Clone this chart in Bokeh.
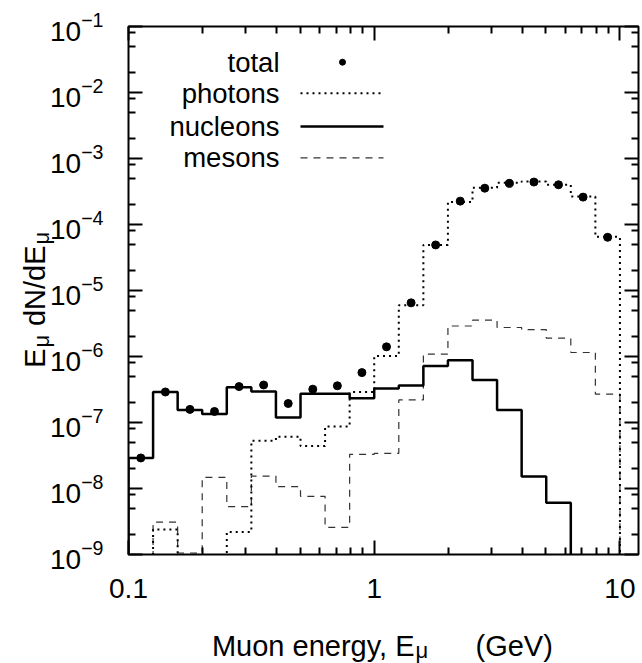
import numpy as np
from bokeh.plotting import figure
from bokeh.models import (LogAxis, FixedTicker, LogTickFormatter, CustomJSTickFormatter, Range1d)
from bokeh.core.properties import value
from bokeh.embed import file_html
from bokeh.resources import INLINE

# ---------------- data ----------------
bin_edges = [0.1, 0.1259, 0.1585, 0.1995, 0.2512, 0.3162, 0.3981, 0.5012, 0.631, 0.7943,
             1.0, 1.259, 1.585, 1.995, 2.512, 3.162, 3.981, 5.012, 6.31, 7.943, 10.0]

total = [2.9e-8, 2.9e-7, 1.58e-7, 1.47e-7, 3.5e-7, 3.7e-7, 1.94e-7, 3.2e-7, 3.6e-7, 5.7e-7,
         1.4e-6, 6.5e-6, 4.9e-5, 2.26e-4, 3.55e-4, 4.2e-4, 4.4e-4, 4.0e-4, 2.6e-4, 6.4e-5]
photons = [0, 2.4e-9, 0, 0, 2.2e-9, 5.3e-8, 6.1e-8, 4.4e-8, 8.7e-8, 2.9e-7,
           1.02e-6, 6.0e-6, 4.9e-5, 2.2e-4, 3.6e-4, 4.3e-4, 4.5e-4, 4.0e-4, 2.65e-4, 6.5e-5]
nucleons = [2.9e-8, 2.9e-7, 1.55e-7, 1.35e-7, 3.43e-7, 2.95e-7, 1.19e-7, 2.72e-7, 2.72e-7, 2.34e-7,
            3.27e-7, 3.63e-7, 7.2e-7, 8.8e-7, 4.4e-7, 1.54e-7, 1.52e-8, 6.1e-9, 0, 0]
mesons = [0, 3.1e-9, 1.05e-9, 1.47e-8, 5.3e-9, 1.54e-8, 1.07e-8, 7.6e-9, 2.57e-9, 3.3e-8,
          3.4e-8, 2.2e-7, 1.09e-6, 2.9e-6, 3.55e-6, 2.75e-6, 2.56e-6, 1.9e-6, 1.15e-6, 2.7e-7]

legend_labels = ["total", "photons", "nucleons", "mesons"]
x_tick_values = [0.1, 1, 10]
y_tick_exponents = list(range(-9, 0))

# ---------------- layout ----------------
W, H = 642, 663
BL, BR, BT, BB = 128, 4, 26, 109
FW, FH = W - BL - BR, H - BT - BB
XL = (0.1, 11.9)
YL = (1e-9, 1e-1)
FLOOR = 1e-14
FONT = "Liberation Sans"
TITLE_SIZE = "29px"
SUB_SIZE = "22px"

p = figure(width=W, height=H, x_axis_type="log", y_axis_type="log",
           x_range=Range1d(*XL), y_range=Range1d(*YL),
           output_backend="svg", toolbar_location=None,
           min_border_left=BL, min_border_right=BR, min_border_top=BT, min_border_bottom=BB)
p.grid.visible = False
p.outline_line_color = "black"
p.outline_line_width = 2
p.background_fill_color = "white"
p.border_fill_color = "white"

x_ticker = FixedTicker(ticks=x_tick_values,
                       minor_ticks=[m * 10.0 ** e for e in (-1, 0) for m in range(2, 10)])
y_ticker = FixedTicker(ticks=[10.0 ** e for e in y_tick_exponents],
                       minor_ticks=[m * 10.0 ** e for e in range(-9, -1) for m in (2, 5, 8)])


def style_axis(ax, labels=True):
    ax.major_tick_in = 14
    ax.major_tick_out = 0
    ax.minor_tick_in = 7
    ax.minor_tick_out = 0
    ax.major_tick_line_width = 2
    ax.minor_tick_line_width = 2
    ax.major_tick_line_color = "black"
    ax.minor_tick_line_color = "black"
    ax.axis_line_color = None
    ax.major_label_text_font = FONT
    ax.major_label_text_color = "black"
    if labels:
        ax.major_label_text_font_size = "28px"
    else:
        ax.major_label_text_font_size = "0px"
        ax.major_label_standoff = 0


xa = p.xaxis[0]
xa.ticker = x_ticker
xa.formatter = CustomJSTickFormatter(code="return tick < 1 ? tick.toFixed(1) : tick.toFixed(0);")
style_axis(xa)
xa.major_label_standoff = 24

ya = p.yaxis[0]
ya.ticker = y_ticker
ya.formatter = LogTickFormatter()
style_axis(ya)
ya.major_label_standoff = 25

blank = CustomJSTickFormatter(code="return '';")
top = LogAxis(ticker=x_ticker, formatter=blank)
style_axis(top, labels=False)
p.add_layout(top, "above")
right = LogAxis(ticker=y_ticker, formatter=blank)
style_axis(right, labels=False)
p.add_layout(right, "right")


def step_path(vals):
    xs, ys = [bin_edges[0]], [FLOOR]
    for i, v in enumerate(vals):
        y = v if v > 0 else FLOOR
        xs += [bin_edges[i], bin_edges[i + 1]]
        ys += [y, y]
    xs.append(bin_edges[-1])
    ys.append(FLOOR)
    return xs, ys


centers = np.sqrt(np.array(bin_edges[:-1]) * np.array(bin_edges[1:]))

mx, my = step_path(mesons)
p.line(mx, my, line_color="#333333", line_width=1.2, line_dash="7 6")
phx, phy = step_path(photons)
p.line(phx, phy, line_color="black", line_width=2, line_dash="2 4")
nx, ny = step_path(nucleons)
p.line(nx, ny, line_color="black", line_width=2.5)
p.scatter(centers, total, size=8, marker="circle", fill_color="black", line_color="black")


# ---------------- helpers: frame pixel -> data ----------------
def to_data(fx, fy):
    lx = np.log10(XL[0]) + fx / FW * (np.log10(XL[1]) - np.log10(XL[0]))
    ly = np.log10(YL[0]) + fy / FH * (np.log10(YL[1]) - np.log10(YL[0]))
    return 10 ** lx, 10 ** ly


def add_text(text, fx, fy, size="28px", align="left", baseline="alphabetic", angle=0.0):
    x, y = to_data(fx, fy)
    p.text(x=[x], y=[y], text=[text], text_font=value(FONT), text_font_size=value(size),
           text_align=align, text_baseline=baseline, angle=angle, text_color="black",
           level="overlay")


# ---------------- legend (label left, sample right) ----------------
leg_rows = [492.3, 461.3, 428.0, 396.7]
for lab, fy in zip(legend_labels, leg_rows):
    add_text(lab, 151, fy, size="27.5px", align="right", baseline="middle")

x0, yy = to_data(172, leg_rows[1])
x1, _ = to_data(255, leg_rows[1])
p.line([x0, x1], [yy, yy], line_color="black", line_width=2, line_dash="2 4")
x0, yy = to_data(172, leg_rows[2])
p.line([x0, x1], [yy, yy], line_color="black", line_width=2.5)
x0, yy = to_data(172, leg_rows[3])
p.line([x0, x1], [yy, yy], line_color="#333333", line_width=1.2, line_dash="7 6")
dx, dy = to_data(214, leg_rows[0])
p.scatter([dx], [dy], size=6, marker="circle", fill_color="black", line_color="black")

# ---------------- axis titles (subscripts chained to anchors) ----------------
add_text("Muon energy, E", 286, -91, size=TITLE_SIZE, align="right")
add_text("\u03bc", 287, -96, size=SUB_SIZE)
add_text("(GeV)", 347, -91, size=TITLE_SIZE)

ang = np.pi / 2
add_text("E", -94, 206, size=TITLE_SIZE, align="right", angle=ang)
add_text("\u03bc", -87, 207, size=SUB_SIZE, angle=ang)
add_text("dN/dE", -94, 309, size=TITLE_SIZE, align="right", angle=ang)
add_text("\u03bc", -87, 310, size=SUB_SIZE, angle=ang)

open("out.html", "w").write(file_html(p, INLINE))
